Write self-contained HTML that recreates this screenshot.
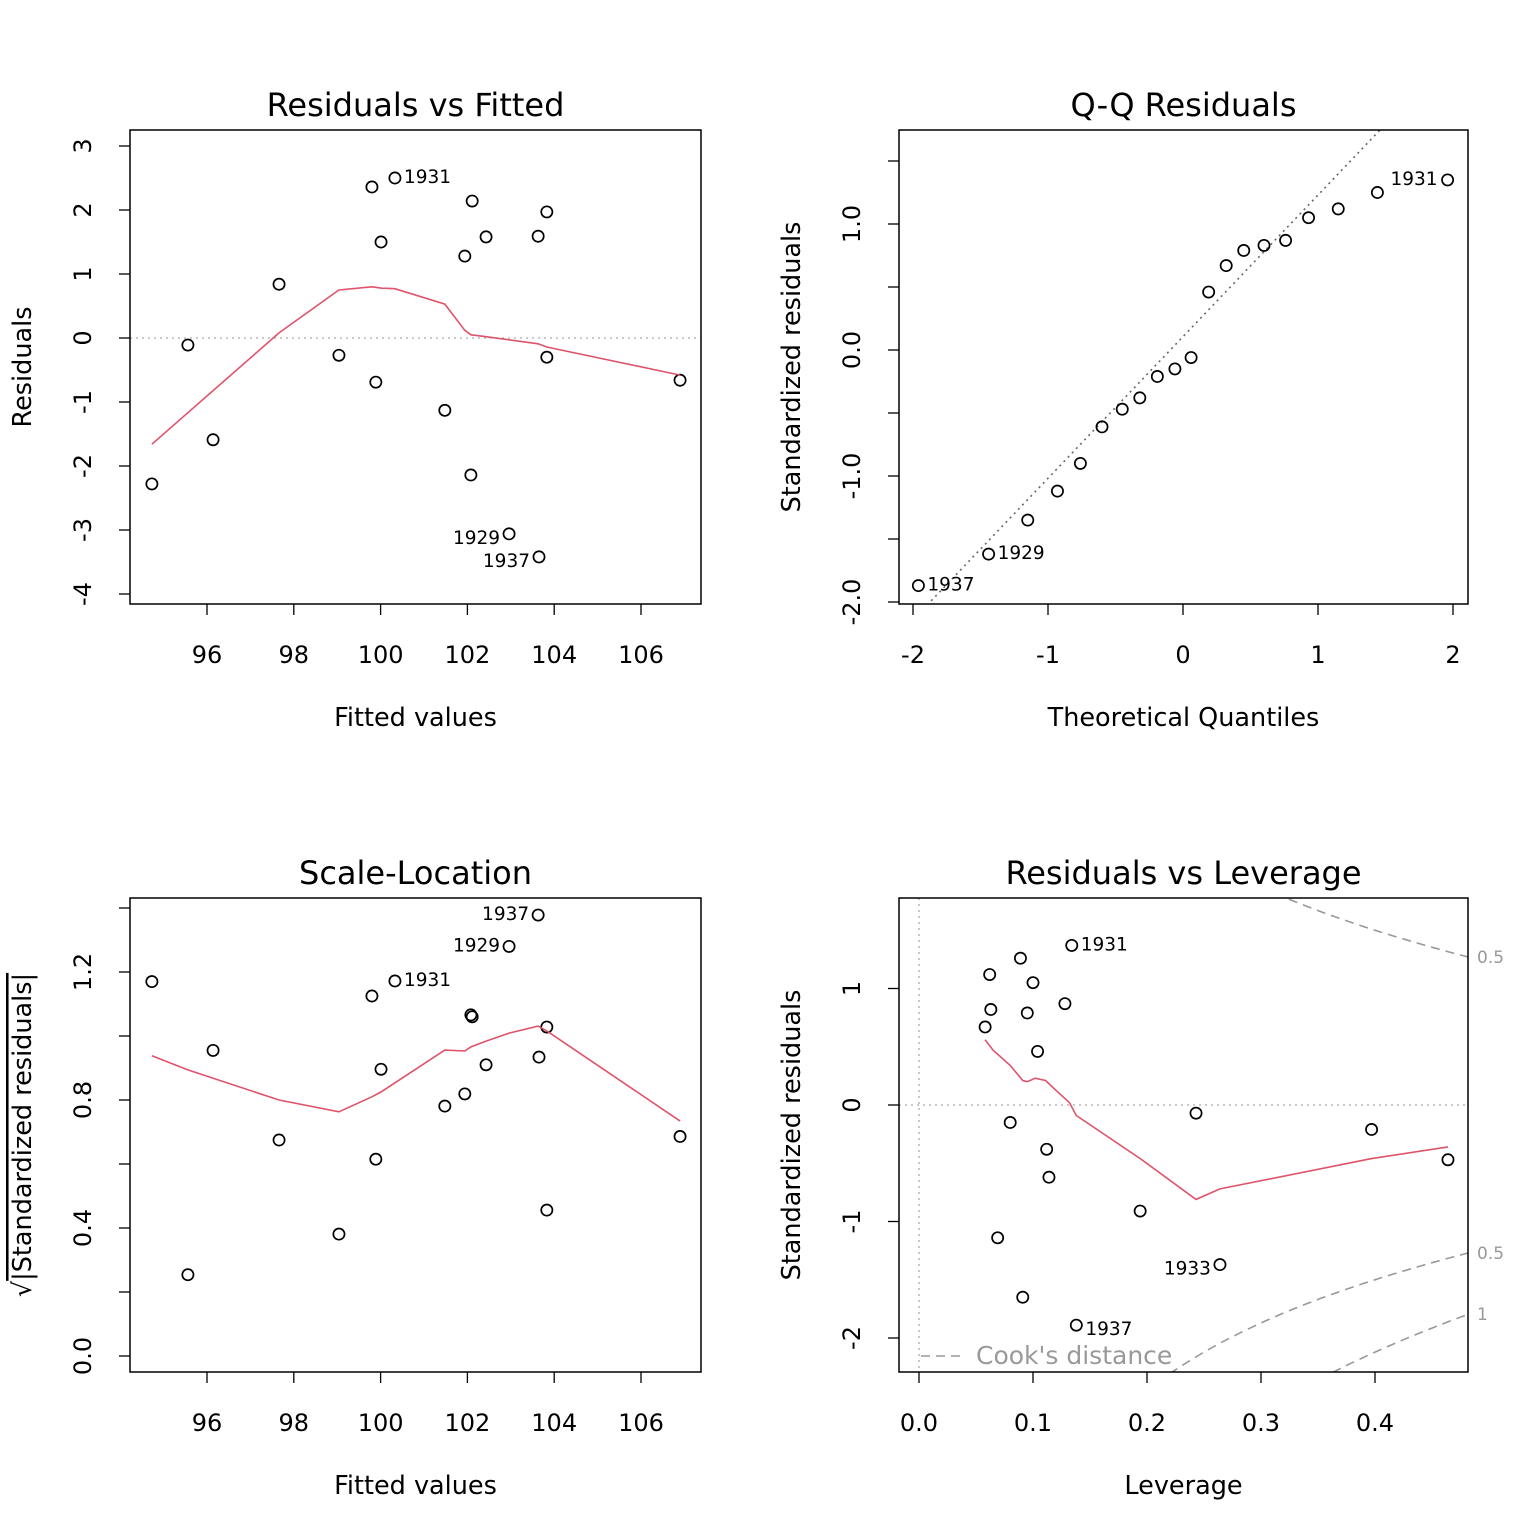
<!DOCTYPE html>
<html><head><meta charset="utf-8"><style>
html,body{margin:0;padding:0;background:#fff;overflow:hidden;width:1536px;height:1536px}
svg{display:block;font-family:"DejaVu Sans","Liberation Sans",sans-serif}
</style></head><body>
<svg id="c" width="1536" height="1536" viewBox="0 0 1536 1536" xmlns="http://www.w3.org/2000/svg"></svg>
<script>
// Panel 1 & 3 data
const fitted=[94.73,95.56,96.14,97.66,99.04,99.80,99.89,100.01,100.33,101.48,101.94,102.08,102.11,102.43,102.96,103.63,103.65,103.83,103.83,106.9];
const residuals=[-2.28,-0.11,-1.59,0.84,-0.27,2.36,-0.69,1.50,2.50,-1.13,1.28,-2.14,2.14,1.58,-3.06,1.59,-3.42,-0.30,1.97,-0.66];
const resSmoothX=[94.73,97.66,99.04,99.80,100.01,100.33,101.48,101.94,102.08,102.43,103.63,103.83,106.9];
const resSmoothY=[-1.66,0.08,0.75,0.80,0.78,0.77,0.53,0.12,0.05,0.02,-0.09,-0.14,-0.58];
const sqrtStd=[1.17,0.254,0.955,0.675,0.381,1.125,0.615,0.896,1.172,0.781,0.819,1.066,1.06,0.91,1.28,1.378,0.934,0.456,1.028,0.686];
const slSmoothX=[94.73,95.56,97.66,99.04,99.80,100.01,101.48,101.94,102.08,102.43,102.96,103.63,103.83,106.9];
const slSmoothY=[0.938,0.894,0.8,0.763,0.81,0.825,0.956,0.953,0.966,0.984,1.009,1.031,1.016,0.734];
// Panel 2
const theoQ=[-1.96,-1.44,-1.15,-0.93,-0.76,-0.60,-0.45,-0.32,-0.19,-0.06,0.06,0.19,0.32,0.45,0.60,0.76,0.93,1.15,1.44,1.96];
const stdRes=[-1.87,-1.62,-1.35,-1.12,-0.90,-0.61,-0.47,-0.38,-0.21,-0.15,-0.06,0.46,0.67,0.79,0.83,0.87,1.05,1.12,1.25,1.35];
const qqLine=[1.124,0.106];
// Panel 4
const leverage=[0.058,0.062,0.063,0.069,0.080,0.089,0.091,0.095,0.100,0.104,0.112,0.114,0.128,0.134,0.138,0.194,0.243,0.264,0.397,0.464];
const stdRes4=[0.67,1.12,0.82,-1.14,-0.15,1.26,-1.65,0.79,1.05,0.46,-0.38,-0.62,0.87,1.37,-1.89,-0.91,-0.07,-1.37,-0.21,-0.47];
const levSmoothX=[0.058,0.065,0.080,0.091,0.095,0.102,0.111,0.123,0.132,0.138,0.194,0.243,0.264,0.397,0.464];
const levSmoothY=[0.56,0.47,0.34,0.21,0.20,0.23,0.21,0.10,0.02,-0.09,-0.46,-0.81,-0.72,-0.46,-0.36];
const cookLevels=[0.5,1];
const pParams=3;

const svg=document.getElementById('c');
const NS='http://www.w3.org/2000/svg';
function mk(tag,attrs,parent,text){const e=document.createElementNS(NS,tag);for(const k in attrs)e.setAttribute(k,attrs[k]);if(text!==undefined)e.textContent=text;(parent||svg).appendChild(e);return e;}
function lin(d0,d1,p0,p1){return v=>p0+(v-d0)*(p1-p0)/(d1-d0);}

function panel(o){
  const g=mk('g',{});
  
  
  const t=mk('text',{x:(o.x0+o.x1)/2,y:o.y0-14,'text-anchor':'middle','font-size':32},g,o.title);
  
  const xl=mk('text',{x:(o.x0+o.x1)/2,y:o.y1+122,'text-anchor':'middle','font-size':25.5},g,o.xlab);
  
  const yl=mk('text',{x:0,y:0,'text-anchor':'middle','font-size':25.5,transform:`translate(${o.x0-99},${(o.y0+o.y1)/2}) rotate(-90)`},g);
  if(o.sqrt){mk('tspan',{},yl,'√');mk('tspan',{'text-decoration':'overline'},yl,o.ylab);}else yl.textContent=o.ylab;
  
  o.xt.forEach((v,i)=>{const px=o.sx(v);
    mk('line',{x1:px,x2:px,y1:o.y1,y2:o.y1+11,stroke:'#000','stroke-width':1.3},g);
    const tl=mk('text',{x:px,y:o.y1+59,'text-anchor':'middle','font-size':24},g,o.xtl[i]);
    });
  o.yt.forEach((v,i)=>{const py=o.sy(v);
    mk('line',{x1:o.x0,x2:o.x0-11,y1:py,y2:py,stroke:'#000','stroke-width':1.3},g);
    const tl=mk('text',{x:0,y:0,'text-anchor':'middle','font-size':24,transform:`translate(${o.x0-39},${py}) rotate(-90)`},g,o.ytl[i]);
    });
  const clip=mk('clipPath',{id:'clip'+o.id},g);
  mk('rect',{x:o.x0,y:o.y0,width:o.x1-o.x0,height:o.y1-o.y0},clip);
  const inner=mk('g',{'clip-path':`url(#clip${o.id})`},g);
  const box=mk('rect',{x:o.x0,y:o.y0,width:o.x1-o.x0,height:o.y1-o.y0,fill:'none',stroke:'#000','stroke-width':1.5},g);
  
  return {g,inner};
}
function points(p,xs,ys,sx,sy){xs.forEach((x,i)=>{const c=mk('circle',{cx:sx(x),cy:sy(ys[i]),r:5.6,fill:'none',stroke:'#000','stroke-width':1.7},p.inner);
  });}
function poly(p,xs,ys,sx,sy,attrs,name){const d=xs.map((x,i)=>sx(x).toFixed(1)+','+sy(ys[i]).toFixed(1)).join(' ');
  const l=mk('polyline',Object.assign({points:d,fill:'none'},attrs),p.inner);return l;}
function lab(p,x,y,txt,anchor,col){const t=mk('text',{x,y,'text-anchor':anchor,'font-size':18.5,fill:col||'#000'},p.g,txt);}

// Panel 1
{const sx=lin(96,106,207,641),sy=lin(0,-4,338,594);
 const p=panel({id:1,name:'residuals-vs-fitted',x0:130,x1:701,y0:130,y1:604,sx,sy,title:'Residuals vs Fitted',xlab:'Fitted values',ylab:'Residuals',
  xt:[96,98,100,102,104,106],xtl:['96','98','100','102','104','106'],yt:[-4,-3,-2,-1,0,1,2,3],ytl:['-4','-3','-2','-1','0','1','2','3']});
 mk('line',{x1:130,x2:701,y1:sy(0),y2:sy(0),stroke:'#aaa','stroke-width':1.3,'stroke-dasharray':'2,4'},p.inner);
 points(p,fitted,residuals,sx,sy);
 poly(p,resSmoothX,resSmoothY,sx,sy,{stroke:'#df536b','stroke-width':1.6},'smooth-line');
 lab(p,sx(100.33)+9,sy(2.5)+5,'1931','start');lab(p,sx(102.96)-9,sy(-3.06)+10,'1929','end');lab(p,sx(103.65)-9,sy(-3.42)+10,'1937','end');}
// Panel 2
{const sx=lin(-2,2,913,1453),sy=lin(0,-1,350,476);
 const p=panel({id:2,name:'qq-residuals',x0:899,x1:1468,y0:130,y1:604,sx,sy,title:'Q-Q Residuals',xlab:'Theoretical Quantiles',ylab:'Standardized residuals',
  xt:[-2,-1,0,1,2],xtl:['-2','-1','0','1','2'],yt:[-2,-1.5,-1,-0.5,0,0.5,1,1.5],ytl:['-2.0','','-1.0','','0.0','','1.0','']});
 const l=mk('line',{x1:sx(-3),y1:sy(qqLine[0]*-3+qqLine[1]),x2:sx(3),y2:sy(qqLine[0]*3+qqLine[1]),stroke:'#666','stroke-width':1.6,'stroke-dasharray':'2,4'},p.inner);
 
 points(p,theoQ,stdRes,sx,sy);
 lab(p,sx(-1.96)+9,sy(-1.87)+5,'1937','start');lab(p,sx(-1.44)+9,sy(-1.62)+5,'1929','start');lab(p,sx(1.96)-10,sy(1.35)+5,'1931','end');}
// Panel 3
{const sx=lin(96,106,207,641),sy=lin(0,0.4,1356,1228);
 const p=panel({id:3,name:'scale-location',x0:130,x1:701,y0:898,y1:1372,sx,sy,title:'Scale-Location',xlab:'Fitted values',ylab:'|Standardized residuals|',sqrt:true,
  xt:[96,98,100,102,104,106],xtl:['96','98','100','102','104','106'],yt:[0,0.2,0.4,0.6,0.8,1.0,1.2,1.4],ytl:['0.0','','0.4','','0.8','','1.2','']});
 points(p,fitted,sqrtStd,sx,sy);
 poly(p,slSmoothX,slSmoothY,sx,sy,{stroke:'#df536b','stroke-width':1.6},'smooth-line');
 lab(p,sx(100.33)+9,sy(1.172)+5,'1931','start');lab(p,sx(102.96)-9,sy(1.28)+5,'1929','end');lab(p,sx(103.63)-9,sy(1.378)+5,'1937','end');}
// Panel 4
{const sx=lin(0,0.4,919,1375),sy=lin(0,-1,1105,1221.5);
 const p=panel({id:4,name:'residuals-vs-leverage',x0:899,x1:1468,y0:898,y1:1372,sx,sy,title:'Residuals vs Leverage',xlab:'Leverage',ylab:'Standardized residuals',
  xt:[0,0.1,0.2,0.3,0.4],xtl:['0.0','0.1','0.2','0.3','0.4'],yt:[-2,-1,0,1],ytl:['-2','-1','0','1']});
 mk('line',{x1:899,x2:1468,y1:sy(0),y2:sy(0),stroke:'#aaa','stroke-width':1.3,'stroke-dasharray':'2,4'},p.inner);
 mk('line',{x1:sx(0),x2:sx(0),y1:898,y2:1372,stroke:'#aaa','stroke-width':1.3,'stroke-dasharray':'2,4'},p.inner);
 cookLevels.forEach(c=>{[1,-1].forEach(s=>{const hs=[],rs=[];for(let h=0.01;h<=0.5;h+=0.005){hs.push(h);rs.push(s*Math.sqrt(c*pParams*(1-h)/h));}
   poly(p,hs,rs,sx,sy,{stroke:'#999','stroke-width':1.6,'stroke-dasharray':'9,6'},'cooks-distance-contour');
   const r=Math.sqrt(c*pParams*(1-0.482)/0.482);
   const ly=sy(s*r);
   if(ly>=898&&ly<=1372){const t=mk('text',{x:1477,y:ly+6,'font-size':17,fill:'#999'},p.g,String(c));}});});
 points(p,leverage,stdRes4,sx,sy);
 poly(p,levSmoothX,levSmoothY,sx,sy,{stroke:'#df536b','stroke-width':1.6},'smooth-line');
 lab(p,sx(0.134)+9,sy(1.37)+5,'1931','start');lab(p,sx(0.264)-9,sy(-1.37)+10,'1933','end');lab(p,sx(0.138)+9,sy(-1.89)+10,'1937','start');
 const lg=mk('g',{},p.g);
 mk('line',{x1:921,x2:963,y1:1356,y2:1356,stroke:'#999','stroke-width':1.6,'stroke-dasharray':'9,6'},lg);
 mk('text',{x:976,y:1364,'font-size':25,fill:'#999'},lg,"Cook's distance");}
</script>
</body></html>
